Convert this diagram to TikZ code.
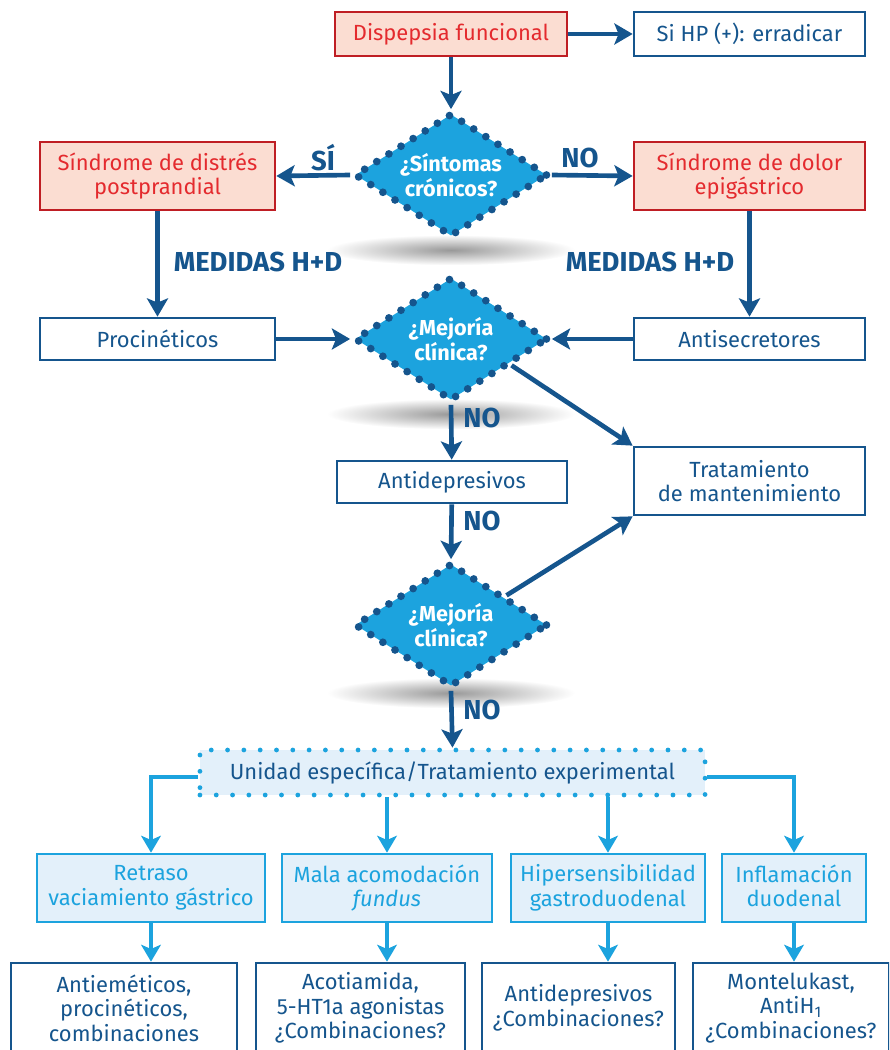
\documentclass[tikz,border=0pt]{standalone}
\usepackage{fontspec}
\setmainfont{Fira Sans}
\usetikzlibrary{arrows.meta,shapes.geometric,calc}
\definecolor{azuloscuro}{HTML}{15558D}
\definecolor{azulclaro}{HTML}{1CA3DE}
\definecolor{rojo}{HTML}{E42A2E}
\definecolor{rojoborde}{HTML}{BF1E24}
\definecolor{rosa}{HTML}{FBDDD2}
\definecolor{celeste}{HTML}{E3F0FA}

\begin{document}
\begin{tikzpicture}[x = 0.025cm, y = -0.025cm,
                        font = \fontsize{15.6}{17.5}\selectfont,
                        caja/.style = {draw = azuloscuro, fill = white, line width = 1.9pt, text = azuloscuro, align = center, inner sep = 0pt},
                        rosada/.style = {draw = rojoborde, fill = rosa, line width = 1.9pt, text = rojo, align = center, inner sep = 0pt},
                        clara/.style = {draw = azulclaro, fill = celeste, line width = 1.9pt, text = azulclaro, align = center, minimum height = 1.7cm, inner sep = 0pt},
                        rombo/.style = {diamond, aspect = 1.56, fill = azulclaro, draw = azuloscuro, line width = 5.5pt, line cap = round, dash pattern = on 0pt off 10.2pt,
                                        minimum width = 4.85cm, minimum height = 3.1cm, inner sep = 0pt, text = white, font = \fontsize{15.4}{17.5}\selectfont\bfseries, align = center},
                        punteada/.style = {fill = celeste, draw = azulclaro, line width = 3.4pt, line cap = round, dash pattern = on 0pt off 11.6pt,
                                           text = azuloscuro, minimum width = 12.625cm, minimum height = 1.125cm, inner sep = 0pt},
                        flecha/.style = {draw = azuloscuro, line width = 3.3pt, -{Stealth[length = 13pt, width = 15pt, inset = 3pt]}},
                        flechaclara/.style = {draw = azulclaro, line width = 2.6pt, -{Stealth[length = 12pt, width = 14pt, inset = 3pt]}},
                        etiqueta/.style = {text = azuloscuro, font = \fontsize{19.5}{22}\selectfont\bfseries},
                        sombra/.style = {inner color = black!40, outer color = white}]
      \useasboundingbox (0, 0) rectangle (889, 1050);
      \clip (0, 0) rectangle (889, 1050);
      % sombras bajo los rombos
      \shade [sombra] (451, 250) ellipse (3.1cm and 0.38cm);
      \shade [sombra] (451, 414) ellipse (3.1cm and 0.38cm);
      \shade [sombra] (451, 693) ellipse (3.1cm and 0.38cm);
      % fila superior
      \node [rosada, minimum width = 5.8cm, minimum height = 1.1cm] (dis) at (451, 34){Dispepsia funcional};
      \node [caja, minimum width = 5.775cm, minimum height = 1.1cm] (hp) at (749.5, 34){Si HP (+): erradicar};
      \node [rombo] (d1) at (451, 175){¿Síntomas\\crónicos?};
      \node [rosada, minimum width = 5.875cm, minimum height = 1.7cm] (psp) at (157.5, 176){Síndrome de distrés\\postprandial};
      \node [rosada, minimum width = 5.775cm, minimum height = 1.7cm] (dol) at (749.5, 176){Síndrome de dolor\\epigástrico};
      \node [caja, minimum width = 5.875cm, minimum height = 1.05cm] (pro) at (157.5, 339){Procinéticos};
      \node [caja, minimum width = 5.775cm, minimum height = 1.05cm] (ant) at (749.5, 339){Antisecretores};
      \node [rombo] (d2) at (451, 339){¿Mejoría\\clínica?};
      \node [caja, minimum width = 5.75cm, minimum height = 1.05cm] (adp) at (452, 482){Antidepresivos};
      \node [caja, minimum width = 5.775cm, minimum height = 1.7cm] (tra) at (749.5, 481){Tratamiento\\de mantenimiento};
      \node [rombo] (d3) at (451, 625){¿Mejoría\\clínica?};
      \node [punteada] (uni) at (452.5, 772.5){Unidad específica/Tratamiento experimental};
      % fila de causas
      \node [clara, minimum width = 5.7cm] (r1) at (151, 888){Retraso\\vaciamiento gástrico};
      \node [clara, minimum width = 5.25cm] (r2) at (387, 888){Mala acomodación\\\textit{fundus}\vphantom{g}};
      \node [clara, minimum width = 4.85cm] (r3) at (608, 888){Hipersensibilidad\\gastroduodenal};
      \node [clara, minimum width = 3.6cm] (r4) at (794, 888){Inflamación\\duodenal\vphantom{g}};
      % fila de tratamientos
      \node [caja, minimum width = 5.65cm, minimum height = 2.25cm] (b1) at (124, 1008){Antieméticos,\\procinéticos,\\combinaciones};
      \node [caja, minimum width = 5.225cm, minimum height = 2.25cm] (b2) at (360.5, 1008){Acotiamida,\\5-HT1a agonistas\\¿Combinaciones?};
      \node [caja, minimum width = 4.825cm, minimum height = 2.25cm] (b3) at (578.5, 1008){Antidepresivos\\¿Combinaciones?};
      \node [caja, minimum width = 4.9cm, minimum height = 2.25cm] (b4) at (791, 1008){Montelukast,\\AntiH\textsubscript{1}\\¿Combinaciones?};
      % conectores
      \draw [flecha] (dis) -- (hp);
      \draw [flecha] (dis) -- (d1.north);
      \draw [flecha] (d1.west) -- (psp.east);
      \draw [flecha] (d1.east) -- (dol.west);
      \draw [flecha] (psp) -- (pro);
      \draw [flecha] (dol) -- (ant);
      \draw [flecha] (pro) -- (d2.west);
      \draw [flecha] (ant) -- (d2.east);
      \draw [flecha] (d2.south) -- (adp);
      \draw [flecha] ($(d2.east)!0.4!(d2.south)$) -- (tra.north west);
      \draw [flecha] (adp) -- (d3.north);
      \draw [flecha] ($(d3.north)!0.55!(d3.east)$) -- (tra.south west);
      \draw [flecha] (d3.south) -- (uni.north);
      \draw [flechaclara] ([yshift = -0.12cm]uni.west) -| (r1.north);
      \draw [flechaclara] (uni.south -| r2.north) -- (r2.north);
      \draw [flechaclara] (uni.south -| r3.north) -- (r3.north);
      \draw [flechaclara] ([yshift = -0.12cm]uni.east) -| (r4.north);
      \draw [flechaclara] (r1) -- (r1.south |- b1.north);
      \draw [flechaclara] (r2) -- (r2.south |- b2.north);
      \draw [flechaclara] (r3) -- (r3.south |- b3.north);
      \draw [flechaclara] (r4) -- (r4.south |- b4.north);
      % etiquetas
      \node [etiqueta] (si) at (323, 158){SÍ};
      \node [etiqueta] (no1) at (580, 158){NO};
      \node [etiqueta] (hd1) at (258, 262){MEDIDAS H+D};
      \node [etiqueta] (hd2) at (650, 262){MEDIDAS H+D};
      \node [etiqueta] (no2) at (482, 418){NO};
      \node [etiqueta] (no3) at (482, 521){NO};
      \node [etiqueta] (no4) at (482, 710){NO};
    \end{tikzpicture}
\end{document}
